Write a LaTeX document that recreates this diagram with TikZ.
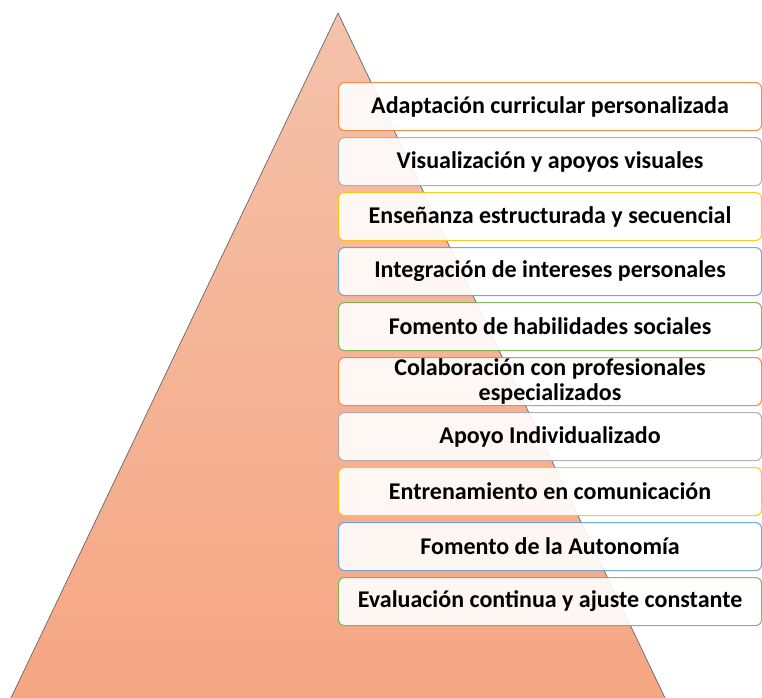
\documentclass[tikz,border=0pt]{standalone}
\usepackage{fontspec}
\setmainfont{Carlito}
\usetikzlibrary{calc}
\definecolor{pyrtop}{RGB}{244,194,170}
\definecolor{pyrbot}{RGB}{246,166,131}
\definecolor{lorange}{RGB}{237,125,49}
\definecolor{lgray}{RGB}{165,165,165}
\definecolor{lgold}{RGB}{255,192,0}
\definecolor{lblue}{RGB}{91,155,213}
\definecolor{lgreen}{RGB}{112,173,71}
\tikzset{
  level/.style={draw=#1,draw opacity=.85,line width=1.1pt,fill=white,
    fill opacity=.9,text opacity=1,rounded corners=6pt,
    minimum width=423pt,minimum height=48pt,inner sep=1pt,
    align=center,font=\fontsize{24}{25.5}\selectfont\bfseries,anchor=north west}
}
\begin{document}
\begin{tikzpicture}[x=1pt,y=-1pt]
\useasboundingbox (0,0) rectangle (762,697);
\coordinate (T) at (338,13);
\coordinate (L) at (10,700);
\coordinate (R) at (666,700);
\begin{scope}
\clip (0,0) rectangle (762,697);
\shade[top color=pyrtop,bottom color=pyrbot,draw=black!60,line width=.7pt]
  (T) -- (R) -- (L) -- cycle;
\end{scope}

\node[level=lorange] (n1) at (338,82) {Adaptación curricular personalizada};
\node[level=lgray] (n2) at (338,137) {Visualización y apoyos visuales};
\node[level=lgold] (n3) at (338,192) {Enseñanza estructurada y secuencial};
\node[level=lblue] (n4) at (338,247) {Integración de intereses personales};
\node[level=lgreen] (n5) at (338,302) {Fomento de habilidades sociales};
\node[level=lorange,inner sep=0pt] (n6) at (338,357) {Colaboración con profesionales\\especializados};
\node[level=lgray] (n7) at (338,412) {Apoyo Individualizado};
\node[level=lgold] (n8) at (338,467) {Entrenamiento en comunicación};
\node[level=lblue] (n9) at (338,522) {Fomento de la Autonomía};
\node[level=lgreen] (n10) at (338,577) {Evaluación continua y ajuste constante};
\end{tikzpicture}
\end{document}
